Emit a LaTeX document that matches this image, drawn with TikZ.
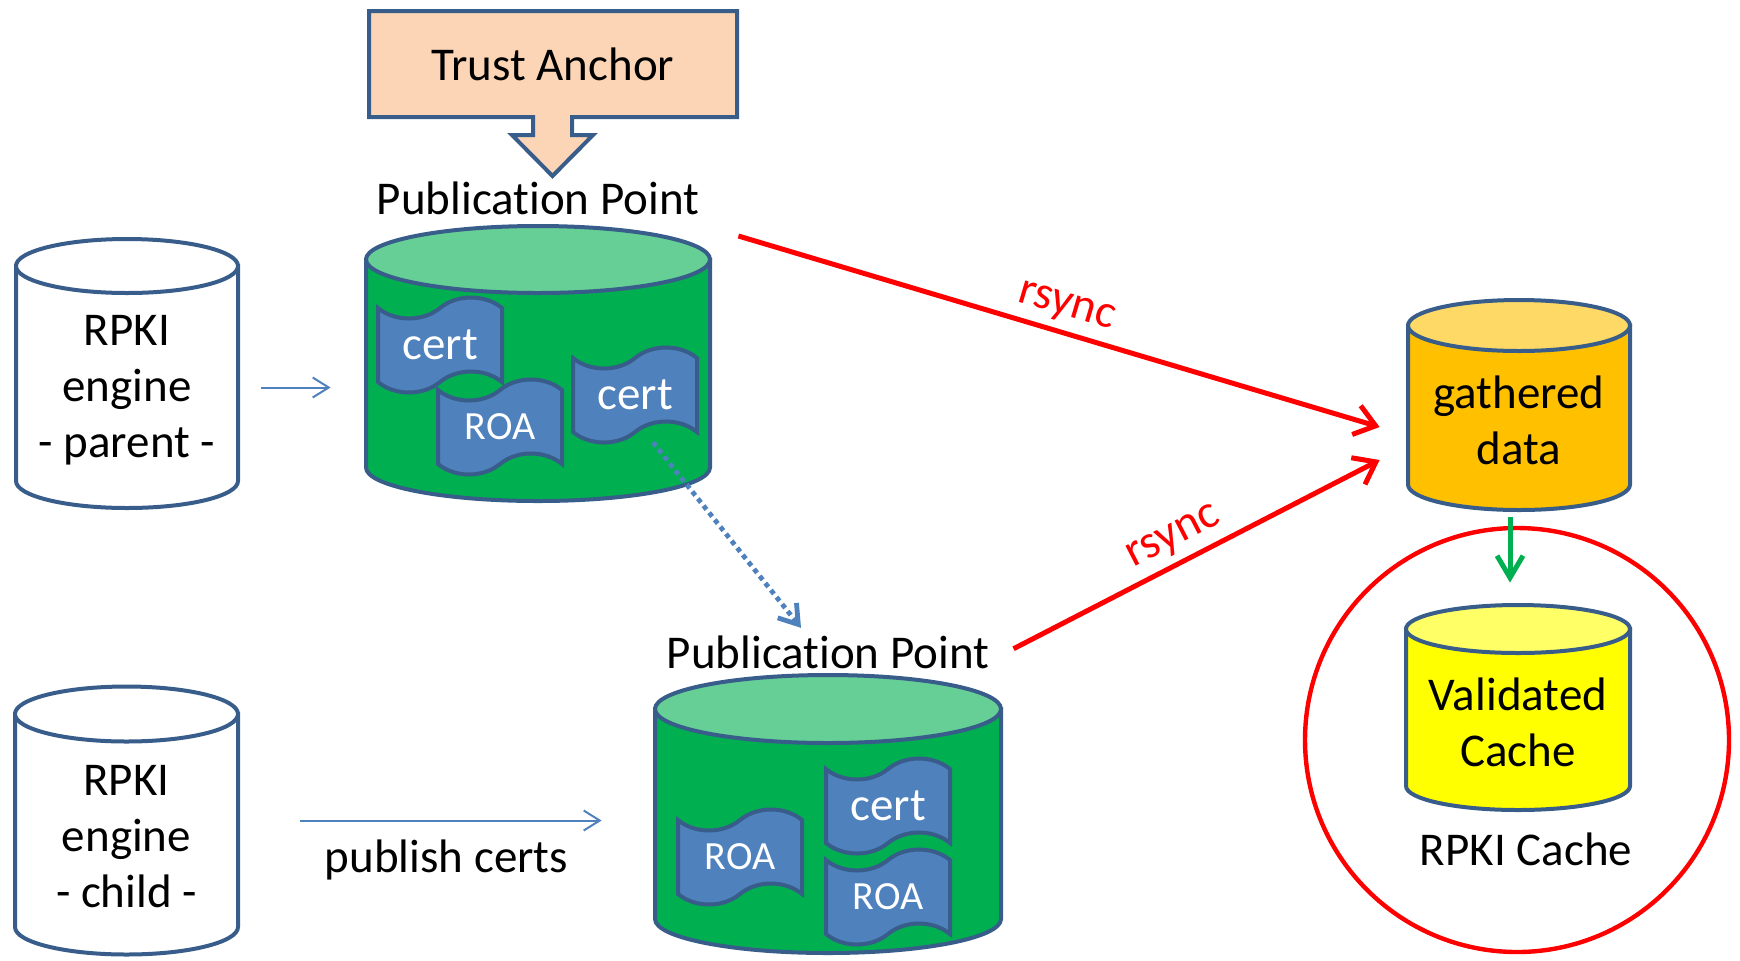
\documentclass[tikz,border=0pt]{standalone}
\usepackage{fontspec}
\setmainfont{Carlito}[Ligatures=NoCommon]
\usetikzlibrary{positioning}
\usetikzlibrary{arrows.meta}

\definecolor{edgeblue}{RGB}{56,93,138}
\definecolor{tapeblue}{RGB}{79,129,189}
\definecolor{peach}{RGB}{251,213,181}
\definecolor{pubgreen}{RGB}{0,176,80}
\definecolor{pubtop}{RGB}{102,207,150}
\definecolor{gold}{RGB}{255,192,0}
\definecolor{goldtop}{RGB}{255,217,102}
\definecolor{lemon}{RGB}{255,255,0}
\definecolor{lemontop}{RGB}{255,255,102}

\newcommand{\roafont}{\fontsize{20pt}{24pt}\selectfont}

\tikzset{
  drumline/.style={draw=edgeblue, line width=2pt},
  drumtext/.style={align=center, inner sep=0pt},
  tape/.style={fill=tapeblue, draw=edgeblue, line width=2pt},
  tapetext/.style={text=white, minimum width=62pt, minimum height=47pt, inner sep=0pt},
  thinarrow/.style={->, >={Straight Barb[length=8pt,width=10pt]}, draw=tapeblue, line width=1pt},
  dotarrow/.style={->, >={Straight Barb[length=9pt,width=12pt]}, draw=tapeblue, line width=2.4pt, dash pattern=on 2.4pt off 2.1pt},
  syncarrow/.style={->, >={Straight Barb[length=10pt,width=15pt]}, draw=red, line width=2.5pt},
  greenarrow/.style={->, >={Straight Barb[length=11pt,width=13pt]}, draw=pubgreen, line width=2.5pt},
}

% cylinder: name, centre, half width, half height, end radius, body colour, top colour, text
\newcommand{\drum}[8]{%
  \begin{scope}[shift={(#2)}]
    \filldraw[drumline, fill=#6] (-#3,{-#4+#5}) -- (-#3,{#4-#5})
      arc[start angle=180, end angle=0, x radius=#3, y radius=#5] -- (#3,{-#4+#5}) -- cycle;
    \filldraw[drumline, fill=#7] (0,{-#4+#5}) ellipse[x radius=#3, y radius=#5];
    \node (#1) [minimum width=#3pt, minimum height=#4pt, inner sep=0pt] at (0,0) {};
    \node (#1txt) [drumtext] at (0,{0.6*#5}) {#8};
  \end{scope}
}

% scroll shaped tape with its text
\newcommand{\tapeat}[3]{%
  \draw[tape, shift={(#2)}] (-62,-37) .. controls (-45,-23) and (-17,-23) .. (0,-37)
    .. controls (17,-51) and (45,-51) .. (62,-37) -- (62,37)
    .. controls (45,23) and (17,23) .. (0,37)
    .. controls (-17,51) and (-45,51) .. (-62,37) -- cycle;
  \node (#1) [tapetext] at (#2) {#3};
}

\begin{document}
\begin{tikzpicture}[x=0.5pt, y=-0.5pt, font=\fontsize{23.5pt}{28pt}\selectfont]
    \useasboundingbox (0,0) rectangle (1740,960);

    % Trust Anchor
    \draw[fill=peach, draw=edgeblue, line width=2pt] (369,11) -- (737,11) -- (737,117) -- (572,117) -- (572,135)
        -- (593,135) -- (552.5,176) -- (512,135) -- (533,135) -- (533,117) -- (369,117) -- cycle;
    \node (trust) at (553,64) {Trust Anchor};

    % RPKI engines
    \drum{parent}{127,373.5}{111}{134.5}{27}{white}{white}{RPKI\\engine\\- parent -}
    \drum{child}{126.5,820.5}{111.5}{134}{27.5}{white}{white}{RPKI\\engine\\- child -}

    % Publication points
    \drum{pub1}{538,363.5}{172}{137.5}{33.5}{pubgreen}{pubtop}{}
    \node (pp1) [above=5pt of pub1, inner sep=0pt] {Publication Point};
    \tapeat{cert1}{440,345}{cert}
    \tapeat{roa1}{500,427}{\roafont ROA}
    \tapeat{cert2}{635,395}{cert}

    \drum{pub2}{828,814}{173}{139}{34}{pubgreen}{pubtop}{}
    \node (pp2) [above=2.5pt of pub2, inner sep=0pt] {Publication Point};
    \tapeat{roa2}{740,857}{\roafont ROA}
    \tapeat{cert3}{888,806}{cert}
    \tapeat{roa3}{888,897}{\roafont ROA}

    % RPKI cache
    \node (cache) [circle, draw=red, line width=2.2pt, minimum size=212pt, inner sep=0pt] at (1517,740) {};
    \drum{gathered}{1519,405}{111}{105}{25.5}{gold}{goldtop}{gathered\\data}
    \drum{valid}{1518,707.5}{112}{102.5}{24}{lemon}{lemontop}{Validated\\Cache}
    \node (cachelbl) [below=11pt of valid, xshift=4pt, inner sep=0pt] {RPKI Cache};

    % Connectors
    \draw[thinarrow, shorten <=11.5pt, shorten >=17.5pt] ([yshift=-7pt]parent.east) -- ([yshift=-7pt]parent.east -| pub1.west);
    \draw[thinarrow, shorten <=31pt, shorten >=26.5pt] (child.east) -- node[below=9pt, inner sep=0pt] {publish certs} (child.east -| pub2.west);
    \draw[dotarrow] ([xshift=9pt]cert2.south) -- ([xshift=-13.5pt, yshift=4pt]pp2.north);
    \draw[syncarrow] ([xshift=14pt, yshift=63.75pt]pub1.east) -- node[sloped, above, text=red] {rsync} ([xshift=-14pt, yshift=-11pt]gathered.west);
    \draw[syncarrow] ([xshift=12pt, yshift=2pt]pp2.east) -- node[pos=0.47, sloped, above, text=red] {rsync} ([xshift=-14pt, yshift=-27.5pt]gathered.west);
    \draw[greenarrow, shorten <=3.5pt, shorten >=11pt] ([xshift=-4.5pt]gathered.south) -- ([xshift=-4.5pt]gathered.south |- valid.north);
\end{tikzpicture}
\end{document}
